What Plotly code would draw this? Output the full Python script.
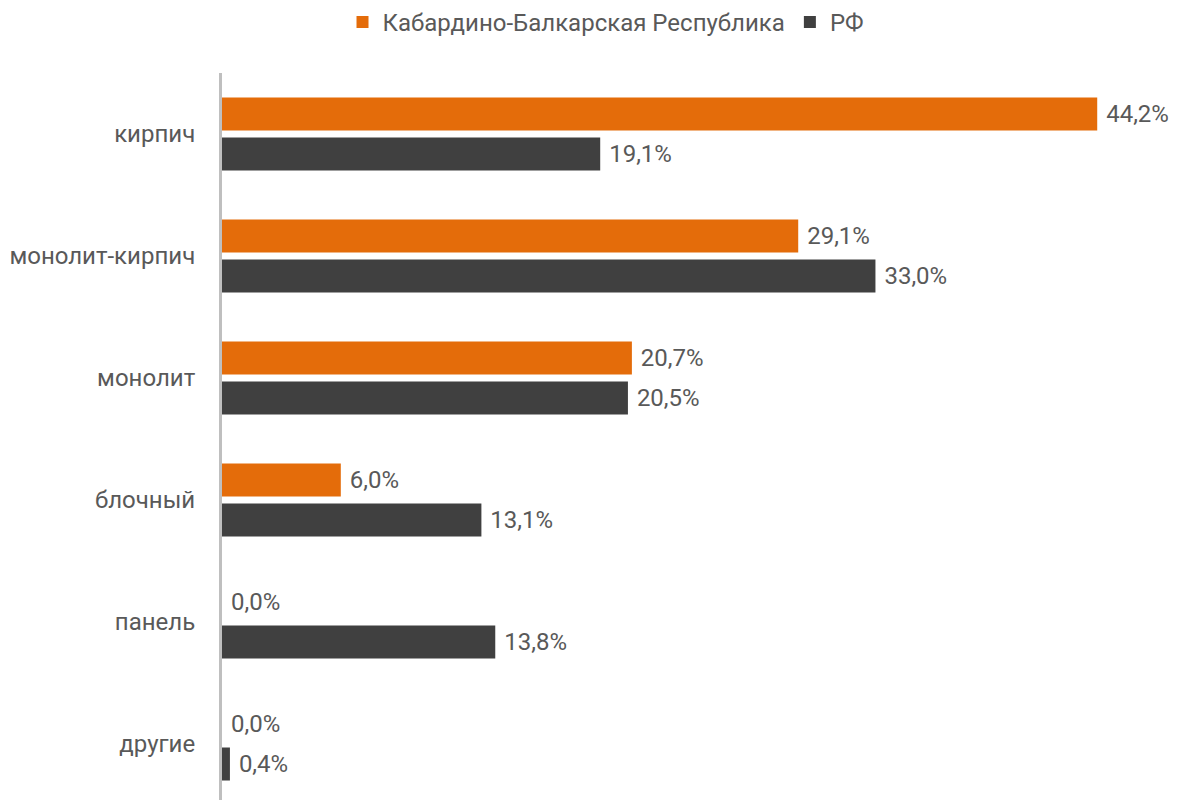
import plotly.graph_objects as go

categories = ["кирпич", "монолит-кирпич", "монолит", "блочный", "панель", "другие"]
kbr_values = [44.2, 29.1, 20.7, 6.0, 0.0, 0.0]
rf_values = [19.1, 33.0, 20.5, 13.1, 13.8, 0.4]
series_names = ["Кабардино-Балкарская Республика", "РФ"]
colors = ["#E46C0A", "#404040"]

FS = 24

def fmt(v):
    return "\u00a0" + f"{v:.1f}".replace(".", ",") + "%"

fig = go.Figure()
for name, vals, col in zip(series_names, [kbr_values, rf_values], colors):
    fig.add_trace(go.Bar(
        y=categories, x=vals, name=name, orientation="h",
        marker=dict(color=col, line=dict(width=0)),
        text=[fmt(v) for v in vals], textposition="outside",
        textfont=dict(family="Roboto", size=FS, color="#595959"),
        cliponaxis=False,
    ))

fig.update_layout(
    width=1179, height=800,
    margin=dict(l=222, r=0, t=73, b=0),
    plot_bgcolor="white", paper_bgcolor="white",
    barmode="group", bargap=0.344, bargroupgap=0.175,
    uniformtext=dict(minsize=FS, mode="show"),
    font=dict(family="Roboto", size=FS, color="#595959"),
    legend=dict(orientation="h", xref="container", x=0.514, xanchor="center",
                yref="container", y=1.0, yanchor="top",
                font=dict(family="Roboto", size=FS, color="#595959"),
                traceorder="normal"),
    xaxis=dict(range=[0, 48.33], showgrid=False, zeroline=False,
               showticklabels=False, showline=False),
    yaxis=dict(autorange=False, range=[5.459, -0.5], showgrid=False,
               showline=True, linewidth=3, linecolor="#BFBFBF",
               ticks="", ticklabelstandoff=19,
               tickfont=dict(family="Roboto", size=FS, color="#595959")),
)
fig.write_html("out.html")
